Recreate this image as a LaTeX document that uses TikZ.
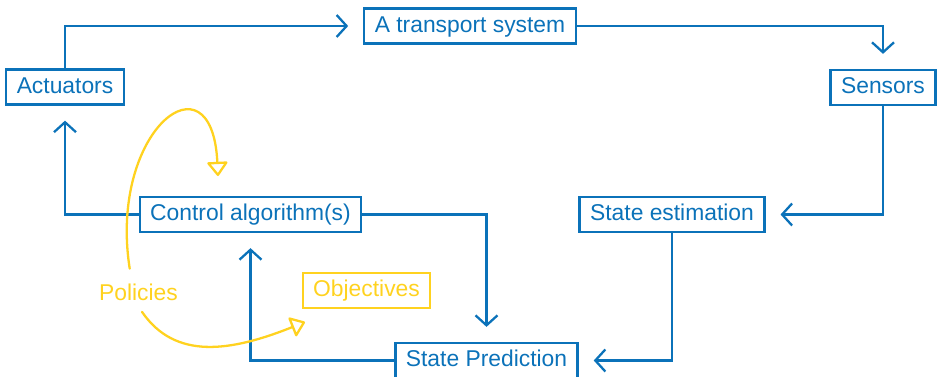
\documentclass[tikz,border=0pt]{standalone}
\usepackage{fontspec}
\setmainfont{Liberation Sans}
\usepackage{tikz}
\usetikzlibrary{arrows.meta}
\usetikzlibrary{positioning}
\definecolor{flowblue}{HTML}{0B72B9}
\definecolor{flowyellow}{HTML}{FFD21F}
\tikzset{basic box/.style={draw,
                           rectangle,
                           line width=1.3pt,
                           minimum height=0.7cm,
                           inner xsep=0.21cm,
                           inner ysep=0pt,
                           text height=0.72em,
                           text depth=0pt,
                           font=\fontsize{13}{15}\selectfont}}
\tikzset{box/.style={basic box,draw=flowblue,text=flowblue}}
\tikzset{edge/.style={draw=flowblue,
                      line width=1.3pt,
                      -{Straight Barb[length=2mm,width=4.4mm]},
                      shorten >=0.3cm}}

\begin{document}
\begin{tikzpicture}
    [
      x=0.02cm,y=-0.02cm,
      goal box/.style={basic box,
      draw=flowyellow,
      text=flowyellow},
      hand edge/.style={draw=flowyellow,
      line width=1.3pt,
      line cap=round,
      -{Triangle[open,length=3mm,width=4.4mm,round]}},
    ]
    \useasboundingbox (0,0) rectangle (940,376);

    % boxes
    \foreach \n/\x/\y/\t in
    {
      act/65/87/Actuators,
      sys/470/26/A transport system,
      sens/883/87.5/Sensors,
      ctrl/250.5/214.5/Control algorithm(s),
      est/672/214.5/State estimation,
      pred/486.5/360.5/State Prediction
    }
    {
    \node [box] (\n) at (\x,\y) {\t};
    }

    \node [goal box] (obj) at (366.5,290.5) {Objectives};
    \node [text=flowyellow,font=\fontsize{13}{15}\selectfont] (pol) at (138.5,292) {Policies};

    % edges
    \path [edge] (act.north) |- (sys.west);
    \path [edge] (sys.east) -| (sens.north);
    \path [edge] (sens.south) |- (est.east);
    \path [edge] (est.south) |- (pred.east);
    \path [edge] (ctrl.east) -| (pred.north);
    \path [edge] (pred.west) -| (ctrl.south);
    \path [edge] (ctrl.west) -| (act.south);

    % policy strokes
    \coordinate (tipA) at (218,176);
    \coordinate (tipB) at (305,322);
    \draw [hand edge] ([xshift=-5pt,yshift=5pt]pol.north) .. controls (108,130) and (212,50) .. (tipA);
    \draw [hand edge] ([xshift=2pt,yshift=-3pt]pol.south) .. controls (175,360) and (230,352) .. (tipB);

  \end{tikzpicture}
\end{document}
